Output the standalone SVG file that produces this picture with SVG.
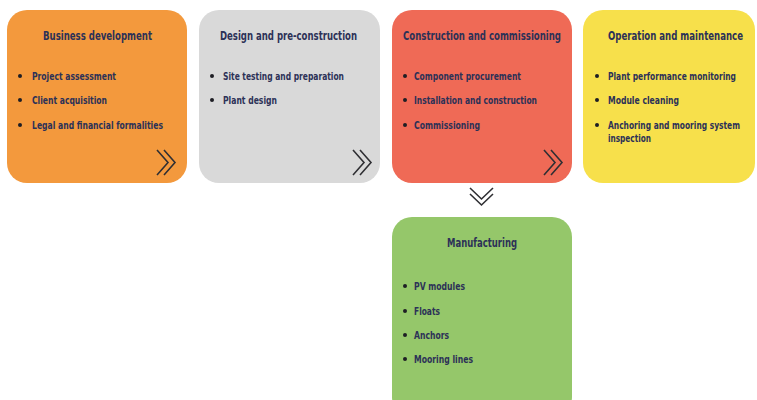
<svg xmlns="http://www.w3.org/2000/svg" width="757" height="400" viewBox="0 0 757 400">
  <style>
    .box { stroke: none; }
    .title { font-family: "DejaVu Sans Condensed", "Liberation Sans", sans-serif; font-weight: bold; font-size: 12.5px; fill: #2c3157; text-anchor: middle; }
    .item { font-family: "DejaVu Sans Condensed", "Liberation Sans", sans-serif; font-weight: bold; font-size: 10.5px; fill: #2c3157; }
    .dot { fill: #1e1e24; }
    .chev { fill: none; stroke: #2f2f33; stroke-width: 1.6; stroke-linejoin: miter; }
  </style>

  <rect width="757" height="400" fill="#ffffff"/>

  <g id="business-development">
    <rect class="box" x="7" y="10" width="180" height="173" rx="20" fill="#f3993d"/>
    <text class="title" x="97.5" y="40" textLength="109" lengthAdjust="spacingAndGlyphs">Business development</text>
    <circle class="dot" cx="20" cy="76" r="2"/>
    <text class="item" x="32" y="80" textLength="84" lengthAdjust="spacingAndGlyphs">Project assessment</text>
    <circle class="dot" cx="20" cy="100" r="2"/>
    <text class="item" x="32" y="104" textLength="75" lengthAdjust="spacingAndGlyphs">Client acquisition</text>
    <circle class="dot" cx="20" cy="125" r="2"/>
    <text class="item" x="32" y="129" textLength="131" lengthAdjust="spacingAndGlyphs">Legal and financial formalities</text>
  </g>

  <g id="design-pre-construction">
    <rect class="box" x="199" y="10" width="181" height="173" rx="20" fill="#d9d9d9"/>
    <text class="title" x="288.5" y="40" textLength="137" lengthAdjust="spacingAndGlyphs">Design and pre-construction</text>
    <circle class="dot" cx="212" cy="76" r="2"/>
    <text class="item" x="223" y="80" textLength="121" lengthAdjust="spacingAndGlyphs">Site testing and preparation</text>
    <circle class="dot" cx="212" cy="100" r="2"/>
    <text class="item" x="223" y="104" textLength="54" lengthAdjust="spacingAndGlyphs">Plant design</text>
  </g>

  <g id="construction-commissioning">
    <rect class="box" x="392" y="10" width="180" height="173" rx="20" fill="#ef6a56"/>
    <text class="title" x="482" y="40" textLength="158" lengthAdjust="spacingAndGlyphs">Construction and commissioning</text>
    <circle class="dot" cx="405" cy="76" r="2"/>
    <text class="item" x="414" y="80" textLength="107" lengthAdjust="spacingAndGlyphs">Component procurement</text>
    <circle class="dot" cx="405" cy="100" r="2"/>
    <text class="item" x="414" y="104" textLength="123" lengthAdjust="spacingAndGlyphs">Installation and construction</text>
    <circle class="dot" cx="405" cy="125" r="2"/>
    <text class="item" x="414" y="129" textLength="66" lengthAdjust="spacingAndGlyphs">Commissioning</text>
  </g>

  <g id="operation-maintenance">
    <rect class="box" x="583" y="10" width="172" height="173" rx="20" fill="#f7e04b"/>
    <text class="title" x="675.5" y="40" textLength="135" lengthAdjust="spacingAndGlyphs">Operation and maintenance</text>
    <circle class="dot" cx="597" cy="76" r="2"/>
    <text class="item" x="608" y="80" textLength="128" lengthAdjust="spacingAndGlyphs">Plant performance monitoring</text>
    <circle class="dot" cx="597" cy="100" r="2"/>
    <text class="item" x="608" y="104" textLength="71" lengthAdjust="spacingAndGlyphs">Module cleaning</text>
    <circle class="dot" cx="597" cy="125" r="2"/>
    <text class="item" x="608" y="129" textLength="132" lengthAdjust="spacingAndGlyphs">Anchoring and mooring system</text>
    <text class="item" x="608" y="142" textLength="43" lengthAdjust="spacingAndGlyphs">inspection</text>
  </g>

  <g id="manufacturing">
    <rect class="box" x="392" y="217" width="180" height="200" rx="20" fill="#95c76a"/>
    <text class="title" x="482" y="247" textLength="70" lengthAdjust="spacingAndGlyphs">Manufacturing</text>
    <circle class="dot" cx="405" cy="286" r="2"/>
    <text class="item" x="414" y="290" textLength="51" lengthAdjust="spacingAndGlyphs">PV modules</text>
    <circle class="dot" cx="405" cy="311" r="2"/>
    <text class="item" x="414" y="315" textLength="26" lengthAdjust="spacingAndGlyphs">Floats</text>
    <circle class="dot" cx="405" cy="335" r="2"/>
    <text class="item" x="414" y="339" textLength="35" lengthAdjust="spacingAndGlyphs">Anchors</text>
    <circle class="dot" cx="405" cy="359" r="2"/>
    <text class="item" x="414" y="363" textLength="59" lengthAdjust="spacingAndGlyphs">Mooring lines</text>
  </g>

  <g id="connectors">
    <!-- stage-to-stage double chevrons -->
    <polyline class="chev" points="157,150 168,162.5 157,175"/>
    <polyline class="chev" points="164,150 175,162.5 164,175"/>
    <polyline class="chev" points="353,150 364,162.5 353,175"/>
    <polyline class="chev" points="360,150 371,162.5 360,175"/>
    <polyline class="chev" points="544,150 555,162.5 544,175"/>
    <polyline class="chev" points="551,150 562,162.5 551,175"/>
    <!-- downward chevron to manufacturing -->
    <polyline class="chev" points="470,188 481.5,199 493,188"/>
    <polyline class="chev" points="470,194 481.5,205 493,194"/>
  </g>
</svg>
